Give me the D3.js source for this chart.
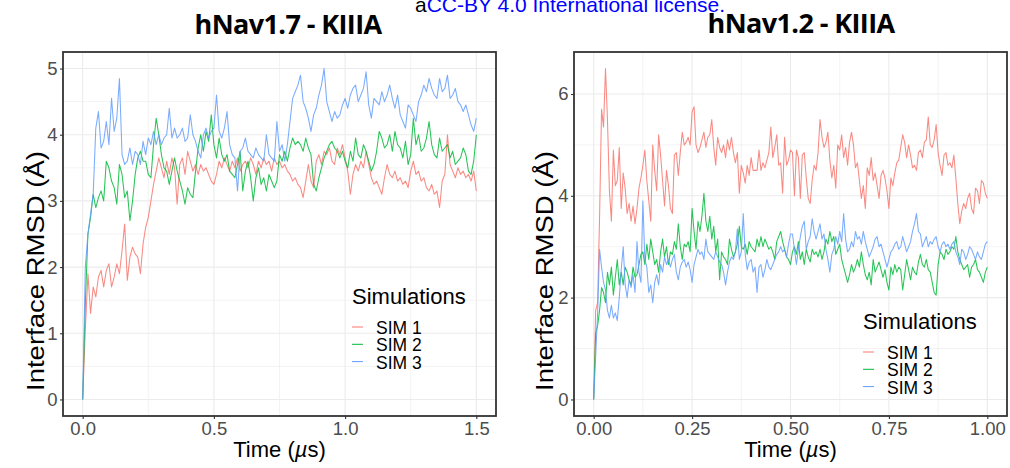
<!DOCTYPE html>
<html><head><meta charset="utf-8">
<script src="https://cdn.jsdelivr.net/npm/d3@7"></script>
<style>
body{margin:0;background:#fff}
svg{display:block}
text{font-family:"Liberation Sans",Arial,Helvetica,sans-serif}
</style>
</head><body>
<svg id="chart" width="1010" height="468"></svg>
<script>
// ---------------- DATA ----------------
const seriesNames = ["SIM 1", "SIM 2", "SIM 3"];
const seriesColors = ["#F8766D", "#00BA38", "#619CFF"];

// hNav1.7 - KIIIA : one value every 0.01 µs, 0 .. 1.5 µs
const nav17Step = 0.01;
const nav17Sim1 = [0,1.05,1.9,1.3,1.7,1.55,1.85,1.95,1.7,1.95,
 2.05,1.7,1.85,2.05,1.9,2.25,2.65,1.8,2.15,2.3,
 2.2,2.15,1.9,2.35,2.6,2.75,3.0,3.25,3.45,3.65,
 3.5,3.35,3.6,3.4,3.65,3.5,2.95,3.55,3.65,3.4,
 3.75,3.6,3.45,3.55,3.4,3.55,3.45,3.5,3.4,3.3,
 3.25,3.4,3.6,3.5,3.65,3.55,3.45,3.6,3.5,3.65,
 3.45,3.55,3.6,3.5,3.65,3.55,3.4,3.6,3.5,3.65,
 3.55,3.6,3.45,3.65,3.55,3.6,3.5,3.55,3.45,3.4,
 3.3,3.35,3.25,3.2,3.05,3.3,3.55,3.3,3.2,3.6,
 3.7,3.55,3.75,3.7,3.8,3.6,3.55,3.8,3.7,3.85,
 3.65,3.45,3.1,3.4,3.55,3.45,3.6,3.5,3.75,3.55,
 3.35,3.25,3.3,3.2,3.1,3.35,3.55,3.4,3.35,3.45,
 3.3,3.35,3.25,3.3,3.2,3.45,3.6,3.4,3.45,3.3,
 3.35,3.2,3.15,3.25,3.1,3.15,2.9,3.3,3.4,4.0,
 3.55,3.45,3.35,3.5,3.4,3.45,3.35,3.4,3.3,3.45,
 3.15];
const nav17Sim2 = [0,1.45,2.5,2.75,3.1,2.9,3.05,3.15,3.0,3.6,
 3.5,3.3,3.2,2.95,3.55,3.4,3.05,3.15,2.7,3.0,
 3.4,3.65,3.75,3.6,3.6,3.4,3.35,3.85,4.25,4.0,
 3.7,3.5,3.45,3.25,3.45,3.65,3.45,3.3,3.15,2.95,
 3.2,3.1,3.05,3.45,3.8,4.0,3.75,4.05,3.9,4.3,
 3.85,3.65,3.95,3.7,3.6,3.7,3.45,3.4,3.35,3.55,
 3.75,3.15,3.45,3.6,3.35,3.0,3.35,3.5,3.25,3.35,
 3.15,3.4,3.3,3.2,3.3,3.7,3.6,3.75,3.6,3.8,
 3.95,3.85,3.9,3.85,3.75,3.95,3.8,3.7,3.25,3.15,
 3.35,3.5,3.65,3.75,3.85,3.9,3.8,3.75,3.65,3.75,
 3.6,3.5,3.75,3.6,3.95,3.7,3.65,3.85,3.75,3.6,
 3.45,3.55,3.75,4.05,3.95,3.8,3.85,4.0,3.75,4.05,
 3.85,3.8,3.65,3.9,3.55,3.7,4.25,3.85,4.0,3.75,
 3.8,3.95,4.2,3.85,3.7,3.65,3.95,3.75,3.8,3.85,
 3.65,3.75,3.55,3.6,3.65,3.8,3.7,3.45,3.4,3.6,
 4.0];
const nav17Sim3 = [0,2.0,2.5,2.8,3.1,4.1,4.35,3.8,3.9,4.2,
 3.85,4.55,4.05,4.25,4.85,3.7,3.55,3.6,3.8,3.55,
 3.75,3.7,3.55,3.9,3.7,3.95,3.85,4.05,3.85,4.0,
 3.85,3.95,4.0,4.4,3.95,4.1,3.95,4.0,4.1,3.9,
 3.95,4.3,4.0,3.9,3.75,3.65,4.0,4.1,3.95,4.05,
 4.1,4.6,4.05,3.95,4.1,4.35,3.85,3.7,3.65,3.15,
 3.75,3.8,3.95,3.75,3.7,3.65,3.8,3.7,3.65,3.6,
 4.0,3.7,3.65,3.6,4.2,3.75,3.85,3.6,3.85,4.2,
 4.55,4.65,4.75,4.9,4.5,4.4,4.25,4.05,4.3,4.4,
 4.6,4.75,5.0,4.5,4.35,4.2,4.35,4.25,4.3,4.45,
 4.55,4.4,4.6,4.7,4.75,4.5,4.6,4.7,4.95,4.45,
 4.25,4.55,4.5,4.45,4.65,4.5,4.6,4.75,4.55,4.4,
 4.6,4.3,4.2,4.1,4.45,4.4,4.3,4.2,4.5,4.6,
 4.75,4.65,4.85,4.7,4.6,4.55,4.85,4.65,4.7,4.9,
 4.55,4.6,4.7,4.5,4.45,4.35,4.45,4.3,4.15,4.05,
 4.25];

// hNav1.2 - KIIIA : one value every 0.005 µs, 0 .. 1.0 µs
const nav12Step = 0.005;
const nav12Sim1 = [0,1.75,1.9,3.6,5.7,5.35,6.5,5.5,4.1,3.5,
 4.9,4.2,4.3,4.95,3.75,4.45,4.15,3.65,3.85,3.5,
 3.8,3.45,3.75,4.15,4.35,4.6,4.9,4.3,3.9,3.5,
 5.0,4.5,4.1,5.2,4.8,4.3,3.8,4.5,4.2,3.75,
 3.65,4.8,4.85,4.4,4.85,5.25,5.0,5.05,5.15,5.0,
 5.65,5.75,5.0,4.85,4.95,5.1,5.25,4.95,5.15,5.2,
 5.5,4.95,4.6,5.15,4.95,4.85,5.0,4.75,5.1,4.9,
 5.15,4.85,4.65,4.85,4.05,4.6,4.45,4.25,4.6,4.4,
 4.75,4.5,4.5,4.5,4.9,4.5,4.65,4.55,4.7,4.85,
 5.35,4.75,4.95,5.2,4.6,4.65,4.05,5.15,4.6,4.7,
 4.9,
 4.85,4.0,4.9,4.75,3.95,4.8,4.85,4.35,3.95,3.85,
 4.3,4.6,4.5,4.85,5.5,5.15,4.95,5.05,5.25,4.7,
 4.35,4.6,4.15,5.0,4.9,5.2,4.75,4.95,4.6,5.05,
 5.25,5.0,4.55,4.65,4.3,3.95,4.2,3.75,4.55,4.4,
 4.75,4.3,4.45,4.2,3.95,4.4,4.5,4.35,4.1,3.75,
 4.35,4.2,4.45,4.65,4.7,4.95,5.2,5.05,4.75,5.0,
 4.8,4.55,4.6,4.5,4.85,4.9,4.75,5.05,5.1,5.55,
 5.0,4.95,5.1,5.4,4.85,4.6,4.4,4.8,4.85,4.6,
 4.65,4.55,4.8,4.35,3.85,3.45,3.7,3.85,3.75,3.95,
 4.05,3.75,3.65,4.15,4.1,3.85,4.3,4.25,4.05,3.95];
const nav12Sim2 = [0,1.3,1.45,1.75,2.2,2.1,1.9,2.5,2.25,2.6,
 2.05,2.4,2.75,2.25,2.5,2.25,2.6,2.5,2.35,2.25,
 2.6,2.4,2.45,2.65,2.85,2.9,2.65,3.05,2.75,3.15,
 2.9,2.65,2.75,2.5,2.9,3.15,2.8,3.0,2.65,2.9,
 2.85,3.1,2.95,3.45,3.0,2.75,3.05,3.0,3.1,2.9,
 3.75,3.3,2.95,3.5,3.3,3.6,4.05,3.5,3.3,3.6,
 3.15,3.4,2.9,3.15,2.35,2.9,2.8,2.75,2.65,3.15,
 2.95,2.8,2.9,3.05,3.4,3.0,2.95,3.05,2.85,3.1,
 3.0,2.95,2.9,3.15,3.0,3.2,3.0,3.15,3.05,2.95,
 3.0,2.9,2.75,3.1,3.2,3.3,3.1,2.95,2.8,2.75,
 2.65,
 2.9,3.0,2.85,3.1,2.75,2.9,2.65,2.95,2.8,2.7,
 2.95,2.85,2.9,2.8,2.95,2.75,2.9,3.15,3.05,3.3,
 3.1,3.2,2.85,2.95,3.05,2.75,2.6,2.45,2.3,2.45,
 2.65,2.5,2.6,2.75,2.6,2.9,2.65,2.45,2.35,2.5,
 2.25,2.75,2.5,2.6,2.7,2.55,2.4,2.55,2.3,2.15,
 2.6,2.45,2.65,2.5,2.6,2.55,2.15,2.45,2.75,2.55,
 2.35,2.6,2.5,2.45,2.7,2.85,2.65,2.6,2.75,2.55,
 2.5,2.3,2.1,2.05,2.65,2.9,2.85,2.75,2.95,2.85,
 2.9,3.0,2.95,3.2,2.9,2.75,2.65,2.55,2.6,2.65,
 2.4,2.6,2.65,2.75,2.55,2.5,2.4,2.3,2.5,2.6];
const nav12Sim3 = [0,0.85,1.7,2.95,2.6,2.3,2.15,1.75,1.6,1.85,
 1.6,1.7,1.55,2.0,2.55,3.0,2.25,2.0,2.35,2.2,
 2.45,2.1,3.1,2.5,2.3,3.9,2.75,2.6,2.1,2.25,
 1.9,2.3,2.45,2.25,2.65,2.5,2.8,2.65,2.75,2.6,
 2.75,2.85,2.5,2.35,2.6,2.7,2.75,2.6,2.7,2.55,
 2.3,2.65,2.8,2.95,2.85,2.9,2.75,3.15,2.9,2.85,
 2.8,2.75,2.9,2.8,2.7,2.65,2.5,2.25,2.5,2.7,
 2.8,2.75,2.9,3.35,2.75,2.9,3.65,2.85,2.55,2.7,
 2.75,2.5,2.6,2.1,2.6,2.65,2.4,2.55,2.75,2.6,
 2.55,2.65,2.75,2.85,2.9,3.0,2.9,2.95,2.8,3.05,
 3.25,
 3.25,2.95,2.65,2.95,3.2,3.4,3.5,2.95,3.1,3.2,
 3.55,3.3,3.15,3.3,3.45,3.15,3.25,2.95,2.75,2.5,
 2.85,2.95,3.2,3.05,3.3,3.1,3.65,3.15,2.9,2.95,
 3.1,3.0,3.3,3.15,3.2,3.05,3.3,3.1,2.95,2.8,
 2.9,3.0,3.15,3.2,3.0,3.05,2.9,2.75,2.6,2.75,
 2.9,2.95,3.05,3.1,2.95,3.0,3.2,3.05,2.9,3.0,
 3.1,3.3,3.45,3.65,3.3,3.25,3.0,3.1,3.2,3.0,
 3.1,3.05,3.15,3.2,3.0,2.9,3.05,3.1,3.0,3.05,
 2.95,3.05,3.1,2.9,2.8,2.65,2.95,2.9,2.75,2.85,
 3.0,2.95,2.85,2.75,2.9,2.8,2.75,2.9,3.05,3.1];

const nav17XTicks = [0, 0.5, 1.0, 1.5];
const nav17XTickLabels = ["0.0", "0.5", "1.0", "1.5"];
const nav17XMinor = [0.25, 0.75, 1.25];
const nav17YTicks = [0, 1, 2, 3, 4, 5];
const nav17YMinor = [0.5, 1.5, 2.5, 3.5, 4.5];

const nav12XTicks = [0, 0.25, 0.5, 0.75, 1.0];
const nav12XTickLabels = ["0.00", "0.25", "0.50", "0.75", "1.00"];
const nav12XMinor = [0.125, 0.375, 0.625, 0.875];
const nav12YTicks = [0, 2, 4, 6];
const nav12YMinor = [1, 3, 5];

const titles = ["hNav1.7 - KIIIA", "hNav1.2 - KIIIA"];
const yTitle = "Interface RMSD (Å)";
const legendTitle = "Simulations";

// ---------------- LAYOUT ----------------
const svg = d3.select("#chart");

const panels = [
  { x0: 63, x1: 496, y0: 52, y1: 416,
    step: nav17Step, series: [nav17Sim1, nav17Sim2, nav17Sim3], tmax: 1.5,
    xt: nav17XTicks, xtl: nav17XTickLabels, xm: nav17XMinor, yt: nav17YTicks, ym: nav17YMinor,
    title: titles[0], titleX: 288, titleY: 34,
    yLabX: 44, legX: 352, legY: 304 },
  { x0: 574, x1: 1007, y0: 52, y1: 416,
    step: nav12Step, series: [nav12Sim1, nav12Sim2, nav12Sim3], tmax: 1.0,
    xt: nav12XTicks, xtl: nav12XTickLabels, xm: nav12XMinor, yt: nav12YTicks, ym: nav12YMinor,
    title: titles[1], titleX: 801, titleY: 33,
    yLabX: 553, legX: 863, legY: 329 }
];

panels.forEach(p => {
  const allV = p.series.flat();
  const vmax = d3.max(allV), vmin = d3.min(allV);
  const vr = vmax - vmin;
  const x = d3.scaleLinear().domain([-0.05 * p.tmax, 1.05 * p.tmax]).range([p.x0, p.x1]);
  const y = d3.scaleLinear().domain([vmin - 0.05 * vr, vmax + 0.05 * vr]).range([p.y1, p.y0]);
  const g = svg.append("g");

  // minor grid
  g.selectAll(".gxm").data(p.xm).join("line")
    .attr("x1", d => x(d)).attr("x2", d => x(d)).attr("y1", p.y0).attr("y2", p.y1)
    .attr("stroke", "#EBEBEB").attr("stroke-width", 0.6);
  g.selectAll(".gym").data(p.ym).join("line")
    .attr("y1", d => y(d)).attr("y2", d => y(d)).attr("x1", p.x0).attr("x2", p.x1)
    .attr("stroke", "#EBEBEB").attr("stroke-width", 0.6);
  // major grid
  g.selectAll(".gx").data(p.xt).join("line")
    .attr("x1", d => x(d)).attr("x2", d => x(d)).attr("y1", p.y0).attr("y2", p.y1)
    .attr("stroke", "#EBEBEB").attr("stroke-width", 1.1);
  g.selectAll(".gy").data(p.yt).join("line")
    .attr("y1", d => y(d)).attr("y2", d => y(d)).attr("x1", p.x0).attr("x2", p.x1)
    .attr("stroke", "#EBEBEB").attr("stroke-width", 1.1);

  // lines
  const line = d3.line().x((d, i) => x(i * p.step)).y(d => y(d));
  p.series.forEach((s, k) => {
    g.append("path").datum(s).attr("d", line)
      .attr("fill", "none").attr("stroke", seriesColors[k])
      .attr("stroke-width", 1.05).attr("stroke-opacity", 0.85)
      .attr("stroke-linejoin", "round");
  });

  // border
  g.append("rect").attr("x", p.x0).attr("y", p.y0)
    .attr("width", p.x1 - p.x0).attr("height", p.y1 - p.y0)
    .attr("fill", "none").attr("stroke", "#333333").attr("stroke-width", 1.8);

  // axes
  const ax = g.append("g").attr("transform", `translate(0,${p.y1})`)
    .call(d3.axisBottom(x).tickValues(p.xt).tickFormat((d, i) => p.xtl[i]).tickSize(3).tickPadding(2.7));
  const ay = g.append("g").attr("transform", `translate(${p.x0},0)`)
    .call(d3.axisLeft(y).tickValues(p.yt).tickFormat(d3.format("d")).tickSize(3).tickPadding(2.5));
  [ax, ay].forEach(a => {
    a.select(".domain").remove();
    a.selectAll(".tick line").attr("stroke", "#333333").attr("stroke-width", 1.1);
    a.selectAll(".tick text").attr("fill", "#4D4D4D").attr("font-size", "18.5px")
      .attr("font-family", '"Liberation Sans", Arial, sans-serif');
  });

  // title
  g.append("text").attr("x", p.titleX).attr("y", p.titleY)
    .attr("text-anchor", "middle").attr("font-size", "27px").attr("font-weight", "bold")
    .style("font-family", '"Open Sans", "Noto Sans", sans-serif')
    .attr("letter-spacing", "-0.6px")
    .text(p.title);

  // x title
  const xt = g.append("text").attr("x", (p.x0 + p.x1) / 2).attr("y", 457)
    .attr("text-anchor", "middle").attr("font-size", "22px").attr("fill", "#000");
  xt.append("tspan").text("Time (");
  xt.append("tspan").attr("font-style", "italic").text("µ");
  xt.append("tspan").text("s)");

  // y title (long, wide rendering as in the reference)
  g.append("text")
    .attr("transform", `translate(${p.yLabX},271) rotate(-90)`)
    .attr("text-anchor", "middle").attr("font-size", "23px").attr("fill", "#000")
    .attr("textLength", 240).attr("lengthAdjust", "spacingAndGlyphs")
    .text(yTitle);

  // legend
  const lg = g.append("g").attr("transform", `translate(${p.legX},${p.legY})`);
  lg.append("text").attr("x", 0).attr("y", 0).attr("font-size", "22px").text(legendTitle);
  seriesNames.forEach((n, k) => {
    const by = 30 + k * 17.3;
    lg.append("line").attr("x1", 0).attr("x2", 11).attr("y1", by - 7).attr("y2", by - 7)
      .attr("stroke", seriesColors[k]).attr("stroke-width", 1);
    lg.append("text").attr("x", 24).attr("y", by).attr("font-size", "17.5px").text(n);
  });
});

// license watermark (cut at the top edge, as in the reference)
const wm = svg.append("text").attr("x", 415).attr("y", 11.5).attr("font-size", "21px");
wm.append("tspan").attr("fill", "#000").text("a");
wm.append("tspan").attr("fill", "#0000FF").text("CC-BY 4.0 International license.");
</script>
</body></html>
